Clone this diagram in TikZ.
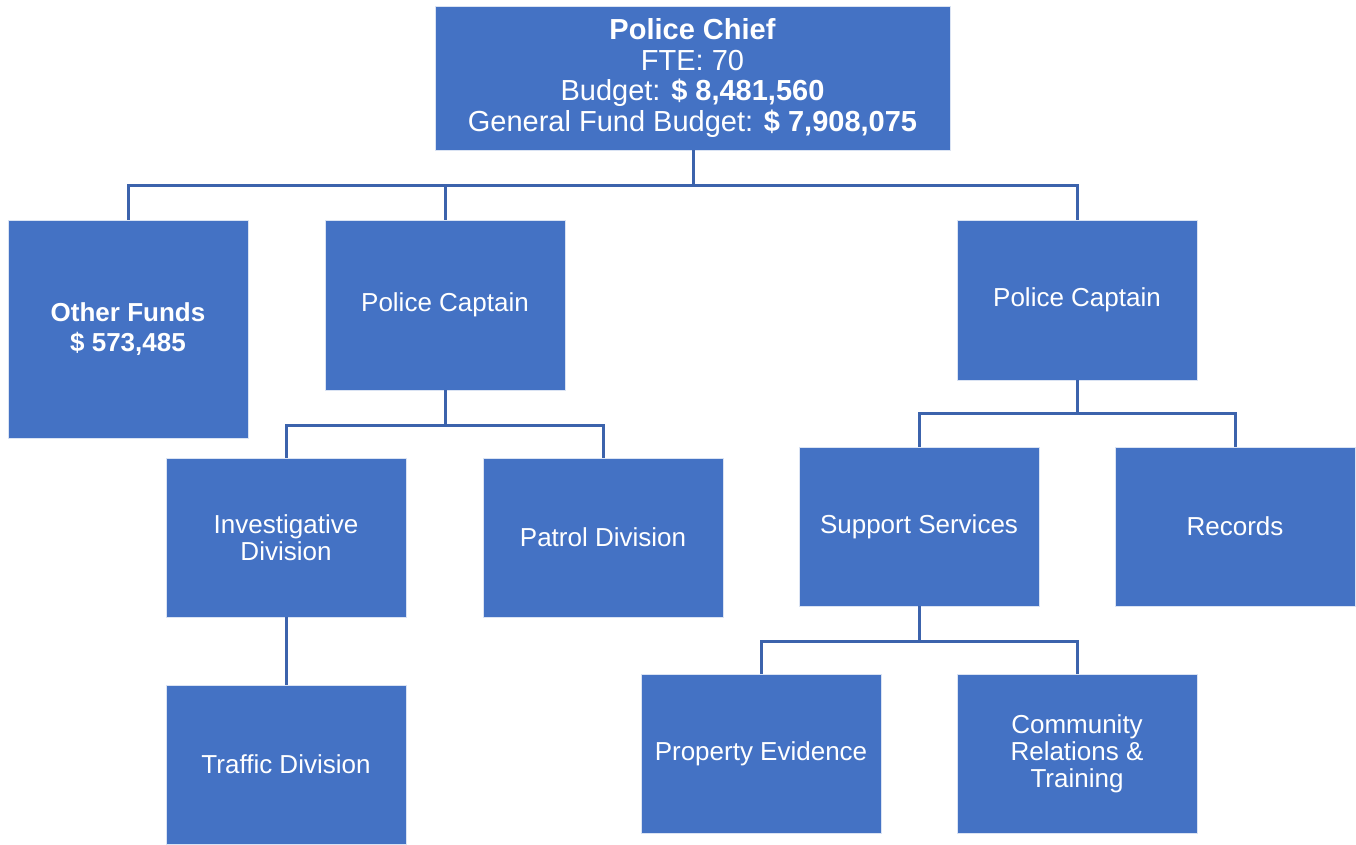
\documentclass[tikz,border=0pt]{standalone}
\usepackage{fontspec}
\setmainfont{Liberation Sans}
\definecolor{boxblue}{HTML}{4472C4}
\definecolor{lineblue}{HTML}{3C63AC}
\begin{document}
\begin{tikzpicture}[x=1pt,y=-1pt,
  orgbox/.style={fill=boxblue, draw=white!80!boxblue, line width=0.8pt, text=white, align=center,
     inner sep=0pt, font=\fontsize{26}{30}\selectfont},
  link/.style={draw=lineblue, line width=3pt}]
\useasboundingbox (0,0) rectangle (1356,844);
% boxes: centre, width, height
\node[orgbox, minimum width=515, minimum height=144, font=\fontsize{29}{30.5}\selectfont] (chief) at (692.5,78)
  {\textbf{Police Chief}\\FTE: 70\\Budget: \textbf{\$ 8,481,560}\\General Fund Budget: \textbf{\$ 7,908,075}};
\node[orgbox, minimum width=240, minimum height=218] (other) at (128,329)
  {\textbf{Other Funds}\\\textbf{\$ 573,485}};
\node[orgbox, minimum width=240, minimum height=170] (capl) at (445,305) {Police Captain};
\node[orgbox, minimum width=240, minimum height=160] (capr) at (1077,300) {Police Captain};
\node[orgbox, minimum width=240, minimum height=159, font=\fontsize{26}{27}\selectfont] (inv) at (286,537.5) {Investigative\\Division};
\node[orgbox, minimum width=240, minimum height=159] (patrol) at (603,537.5) {Patrol Division};
\node[orgbox, minimum width=240, minimum height=159] (supp) at (919,526.5) {Support Services};
\node[orgbox, minimum width=240, minimum height=159] (rec) at (1235,526.5) {Records};
\node[orgbox, minimum width=240, minimum height=159] (traffic) at (286,764.5) {Traffic Division};
\node[orgbox, minimum width=240, minimum height=159] (prop) at (761,753.5) {Property Evidence};
\node[orgbox, minimum width=240, minimum height=159, font=\fontsize{26}{27}\selectfont] (comm) at (1077,753.5) {Community\\Relations \&\\Training};
% connectors
\coordinate (j0) at (693,185);
\coordinate (j1) at (445,425);
\coordinate (j2) at (1077,413);
\coordinate (j3) at (919,641);
\draw[link] (chief.south -| j0) -- (j0);
\draw[link] (other.north) |- (j0) -| (capr.north);
\draw[link] (capl.north) -- (capl.north |- j0);
\draw[link] (capl.south) -- (j1);
\draw[link] (inv.north) |- (j1) -| (patrol.north);
\draw[link] (inv.south) -- (traffic.north);
\draw[link] (capr.south) -- (j2);
\draw[link] (supp.north) |- (j2) -| (rec.north);
\draw[link] (supp.south) -- (j3);
\draw[link] (prop.north) |- (j3) -| (comm.north);
\end{tikzpicture}
\end{document}
